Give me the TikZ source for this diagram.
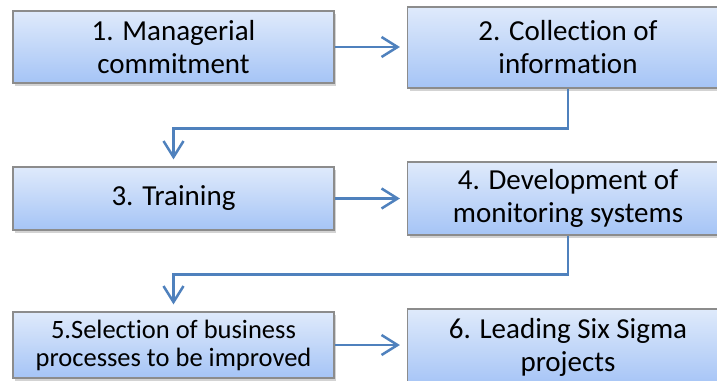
\documentclass[tikz,border=0pt]{standalone}
\usepackage{fontspec}
\setmainfont{Carlito}[Ligatures=NoCommon]
\usepackage{xcolor}
\usepackage{tikz}
\usetikzlibrary{arrows.meta,positioning,shadows}
\definecolor{boxtop}{HTML}{DFEAFB}
\definecolor{boxbottom}{HTML}{A5C4F6}
\definecolor{boxline}{HTML}{8C8C8C}
\definecolor{flowblue}{HTML}{4F81BD}
\tikzset{
  every picture/.style = {
    x = 1pt,
    y = -1pt,
  }
  ,
  stage/.style = {
    rectangle,
    draw = boxline,
    line width = 1.2pt,
    top color = boxtop,
    bottom color = boxbottom,
    drop shadow = {shadow xshift=2pt, shadow yshift=-3pt, opacity=.35},
    minimum width = 321pt,
    align = center,
    inner sep = 2pt,
    font = \fontsize{29}{33}\selectfont
  }
  , % connectors between stages
  flow/.style = {
    draw = flowblue,
    line width = 2.5pt,
    -{Straight Barb[length=16pt,width=20pt,line width=2.5pt]},
    shorten > = 7pt
  }
}

\begin{document}
\begin{tikzpicture}
\useasboundingbox (0,0) rectangle (717,380);
\node[stage, minimum height = 72pt] at (173.5,47) (mc) {1. Managerial\\commitment};
\node[stage, minimum height = 81pt] at (568,47.5) (ci) {2. Collection of\\information};
\node[stage, minimum height = 63pt] at (173.5,198.5) (tr) {3. Training};
\node[stage, minimum height = 73pt] at (568,198.5) (ms) {4. Development of\\monitoring systems};
\node[stage, minimum height = 66pt, font = \fontsize{26.5}{28}\selectfont] at (173.5,345) (sp) {5.Selection of business\\processes to be improved};
\node[stage, minimum height = 77pt] at (568,347.5) (ls) {6. Leading Six Sigma\\projects};
\draw[flow] (mc.east) -- (mc.east -| ci.west);
\draw[flow] (ci.south) -- ++(0,40) -| (tr.north);
\draw[flow] (tr.east) -- (tr.east -| ms.west);
\draw[flow] (ms.south) -- ++(0,39) -| (sp.north);
\draw[flow] (sp.east) -- (sp.east -| ls.west);
\end{tikzpicture}
\end{document}
